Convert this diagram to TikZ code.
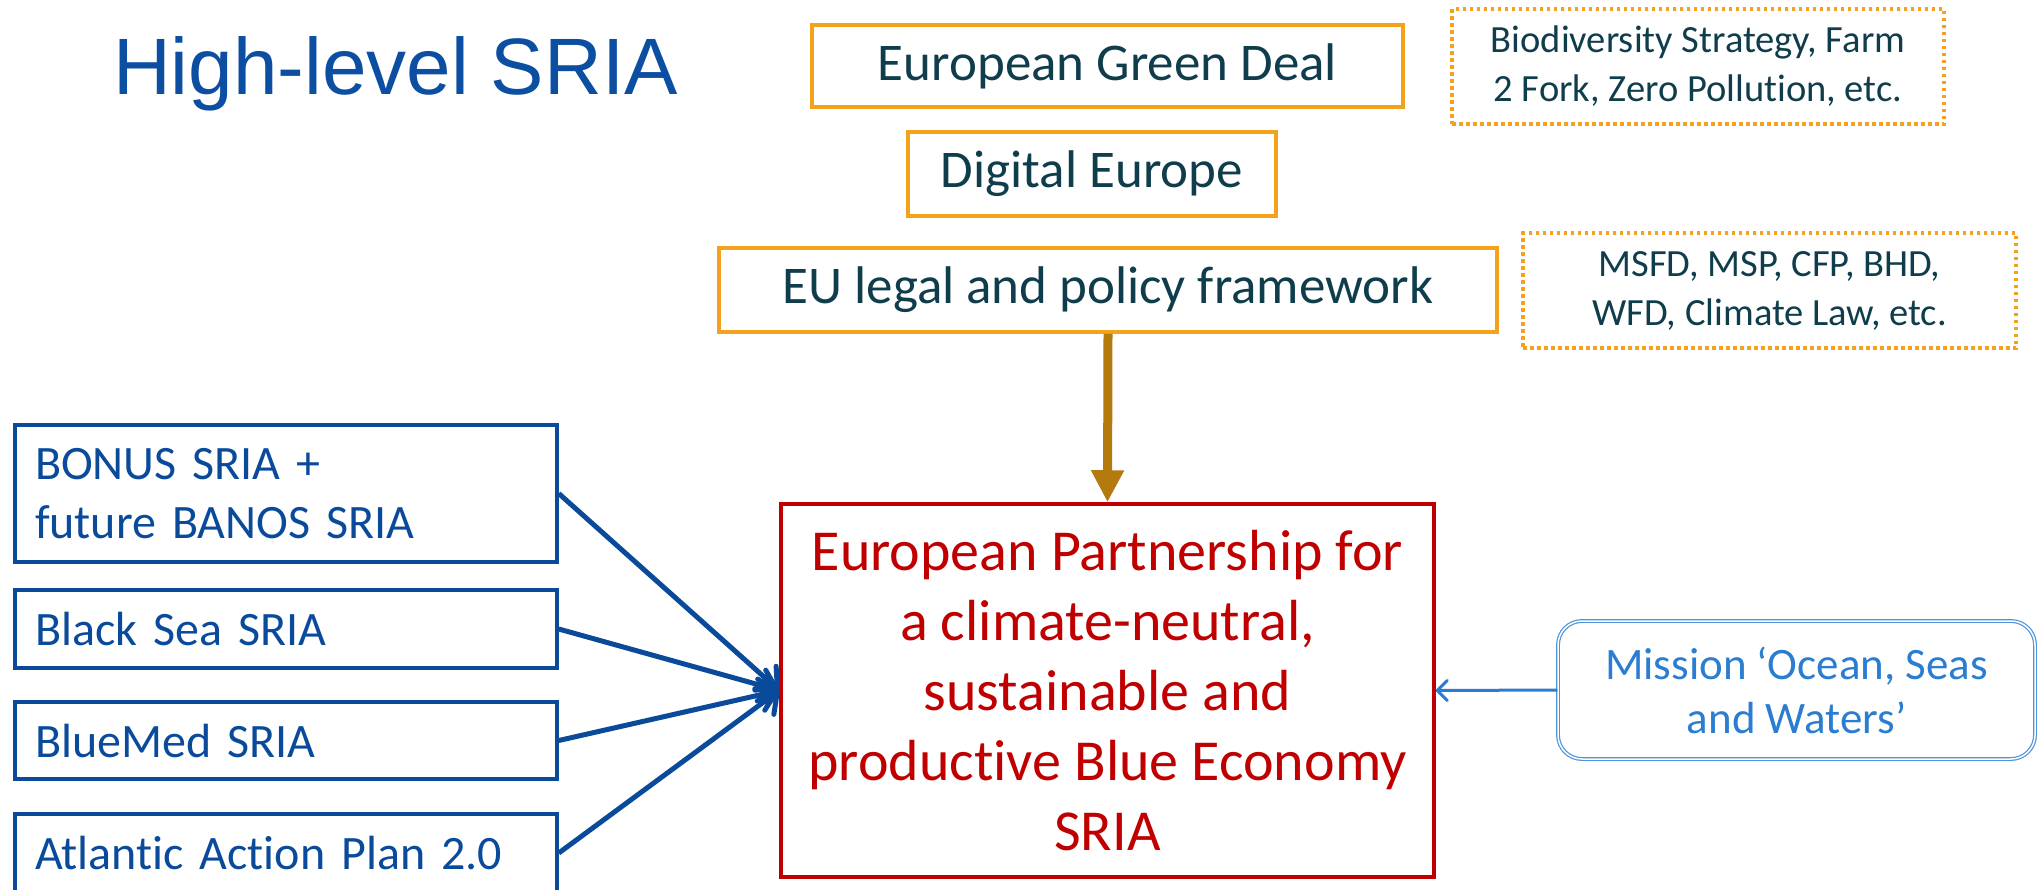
\documentclass[tikz,border=0pt]{standalone}
\usepackage{fontspec}
\setmainfont{Carlito}[Ligatures=CommonOff]
\newfontfamily\titlefont{Liberation Sans}
\usepackage{xcolor}
\definecolor{TitleBlue}{HTML}{0B4EA2}
\definecolor{SeaBlue}{HTML}{0A4A9B}
\definecolor{Orange}{HTML}{F4A11B}
\definecolor{Teal}{HTML}{0F3D4C}
\definecolor{PartRed}{HTML}{C00000}
\definecolor{ArrowBrown}{HTML}{B47A0E}
\definecolor{MissionBlue}{HTML}{2A7DD0}
\definecolor{MissionLine}{HTML}{4F93D8}
\usetikzlibrary{arrows.meta}

\begin{document}
\begin{tikzpicture}[x=1pt, y=1pt,
  policy/.style={draw=Orange, line width=3.5pt, text=Teal, inner sep=0pt, font=\fontsize{53}{64}\selectfont},
  note/.style={draw=Orange, line width=3.5pt, dash pattern=on 3.5pt off 3.5pt, text=Teal, align=center, minimum width=492pt, minimum height=115pt, inner sep=0pt, font=\fontsize{38.5}{49}\selectfont},
  sea/.style={draw=SeaBlue, line width=3.5pt, text=SeaBlue, align=left, text width=502pt, inner xsep=20pt, inner ysep=0pt, font=\fontsize{48}{59}\selectfont},
  feed/.style={SeaBlue, line width=5pt, -{Straight Barb[round, length=16pt, width=32pt]}}]
\useasboundingbox (0,0) rectangle (2039,-889);

\node[anchor=base west, inner sep=0pt, text=TitleBlue, font=\titlefont\fontsize{80}{96}\selectfont] (title) at (113,-94) {High-level SRIA};

\node[policy, minimum width=591pt, minimum height=82pt] (deal) at (1107.5,-66) {European Green Deal};
\node[policy, minimum width=368pt, minimum height=84pt] (digital) at (1092,-174) {Digital Europe};
\node[policy, minimum width=778pt, minimum height=84pt] (legal) at (1108,-290) {EU legal and policy framework};

\node[note] (goals) at (1698,-66.5) {Biodiversity Strategy, Farm\\2 Fork, Zero Pollution, etc.};
\node[note, minimum width=493pt] (laws) at (1769.5,-290.5) {MSFD, MSP, CFP, BHD,\\WFD, Climate Law, etc.};

\node[draw=PartRed, line width=3.5pt, text=PartRed, align=center, minimum width=653pt, minimum height=373pt, font=\fontsize{58}{70}\selectfont] (partner) at (1107.5,-690.5) {European Partnership for\\a climate-neutral,\\sustainable and\\productive Blue Economy\\SRIA};

\node[sea, minimum height=137pt] (bonus) at (286,-493.5) {BONUS SRIA +\\future BANOS SRIA};
\node[sea, minimum height=78pt] (black) at (286,-629) {Black Sea SRIA};
\node[sea, minimum height=77pt] (bluemed) at (286,-740.5) {BlueMed SRIA};
\node[sea, minimum height=78pt] (atlantic) at (286,-853) {Atlantic Action Plan 2.0};

\node[draw=MissionLine, double=white, double distance=1.5pt, line width=1.2pt, rounded corners=24pt, text=MissionBlue, align=center, minimum width=477pt, minimum height=138pt, font=\fontsize{45}{54}\selectfont] (mission) at (1796.5,-690) {Mission ‘Ocean, Seas\\and Waters’};

\draw[ArrowBrown, line width=9pt, -{Triangle[length=32pt,width=31pt]}] (legal.south) -- (partner.north);
\foreach \s in {bonus,black,bluemed,atlantic}
  \draw[feed] (\s.east) -- (partner.west);
\draw[MissionBlue, line width=3pt, -{Straight Barb[round, length=10pt, width=20pt]}] (mission.west) -- (partner.east);
\end{tikzpicture}
\end{document}
